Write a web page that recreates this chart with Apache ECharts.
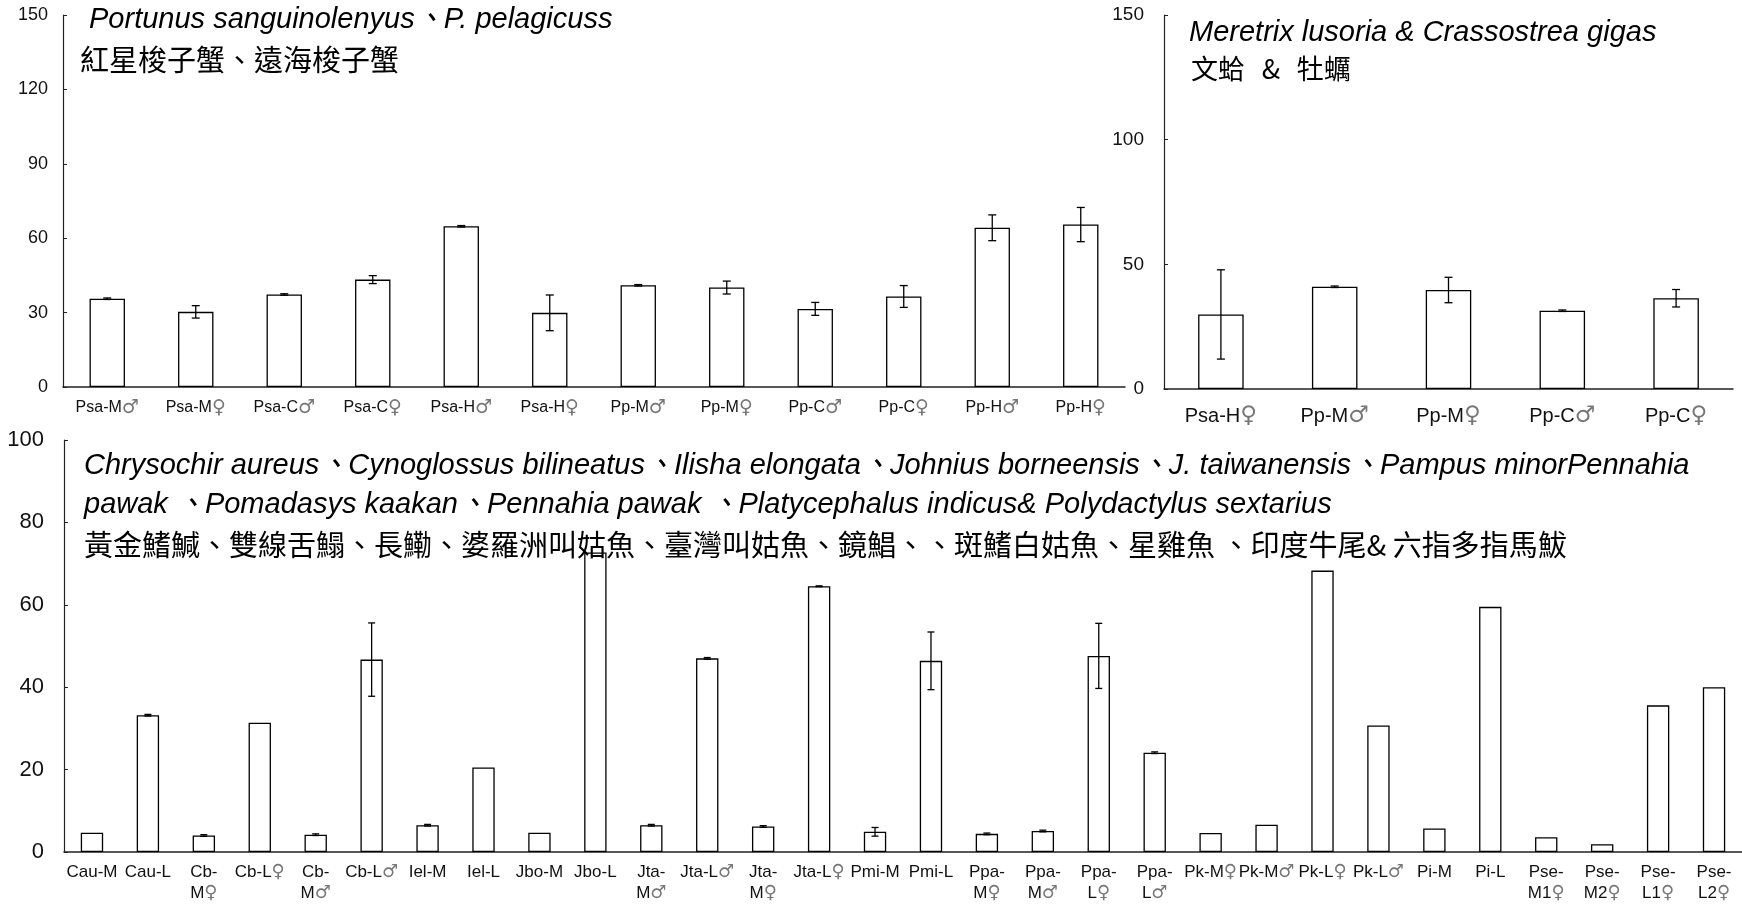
<!DOCTYPE html>
<html>
<head>
<meta charset="utf-8">
<script src="https://cdn.jsdelivr.net/npm/echarts@6/dist/echarts.min.js"></script>
<style>
html,body{margin:0;padding:0;background:#fff;}
#chart{width:1742px;height:905px;}
</style>
</head>
<body>
<div id="chart"></div>
<script>
// ---------- DATA ----------
const crabCategories = ['Psa-M♂','Psa-M♀','Psa-C♂','Psa-C♀','Psa-H♂','Psa-H♀','Pp-M♂','Pp-M♀','Pp-C♂','Pp-C♀','Pp-H♂','Pp-H♀'];
const crabValues = [35.6, 30.3, 37.3, 43.3, 64.8, 29.9, 41.0, 40.1, 31.5, 36.5, 64.2, 65.5];
const crabErrors = [0.3, 2.5, 0.3, 1.6, 0.3, 7.2, 0.3, 2.6, 2.6, 4.4, 5.2, 6.9];
const crabTicks = {min: 0, max: 150, interval: 30};

const shellCategories = ['Psa-H♀','Pp-M♂','Pp-M♀','Pp-C♂','Pp-C♀'];
const shellValues = [29.9, 41.0, 39.7, 31.4, 36.4];
const shellErrors = [17.9, 0.3, 5.1, 0.3, 3.5];
const shellTicks = {min: 0, max: 150, interval: 50};

const fishCategories = ['Cau-M','Cau-L','Cb-\nM♀','Cb-L♀','Cb-\nM♂','Cb-L♂','Iel-M','Iel-L','Jbo-M','Jbo-L',
  'Jta-\nM♂','Jta-L♂','Jta-\nM♀','Jta-L♀','Pmi-M','Pmi-L','Ppa-\nM♀','Ppa-\nM♂','Ppa-\nL♀','Ppa-\nL♂',
  'Pk-M♀','Pk-M♂','Pk-L♀','Pk-L♂','Pi-M','Pi-L','Pse-\nM1♀','Pse-\nM2♀','Pse-\nL1♀','Pse-\nL2♀'];
const fishValues = [4.7, 33.2, 4.0, 31.4, 4.2, 46.7, 6.5, 20.5, 4.7, 72.7,
  6.5, 47.0, 6.2, 64.5, 4.9, 46.4, 4.4, 5.1, 47.6, 24.1,
  4.6, 6.6, 68.3, 30.7, 5.7, 59.5, 3.6, 1.9, 35.6, 40.0];
const fishErrors = [0, 0.2, 0.2, 0, 0.2, 8.9, 0.2, 0, 0, 0,
  0.2, 0.2, 0.2, 0.1, 1.05, 7.0, 0.2, 0.2, 7.9, 0.2,
  0, 0, 0, 0, 0, 0, 0, 0, 0, 0];
const fishTicks = {min: 0, max: 100, interval: 20};

const crabTitle = 'Portunus sanguinolenyus、P. pelagicuss';
const crabTitleZh = '紅星梭子蟹、遠海梭子蟹';
const shellTitle = 'Meretrix lusoria & Crassostrea gigas';
const shellTitleZh = '文蛤 & 牡蠣';
const fishTitle1 = 'Chrysochir aureus、Cynoglossus bilineatus、Ilisha elongata、Johnius borneensis、J. taiwanensis、Pampus minorPennahia';
const fishTitle2 = 'pawak 、Pomadasys kaakan、Pennahia pawak 、Platycephalus indicus& Polydactylus sextarius';
const fishTitleZh = '黃金鰭鰔、雙線舌鰨、長鰳、婆羅洲叫姑魚、臺灣叫姑魚、鏡鯧、、斑鰭白姑魚、星雞魚 、印度牛尾& 六指多指馬鮁';

// ---------- CHART ----------
const FONT = '"Liberation Sans", Arial, "Noto Sans CJK TC", sans-serif';
const CJK = '"Noto Sans CJK TC", sans-serif';

function genderFmt(v){ return v.replace(/([♂♀])/g, '{g|$1}'); }

function xAxis(gi, cats, fs, gfs, margin, lh){
  return {
    type: 'category', gridIndex: gi, data: cats,
    axisLine: {lineStyle: {color: '#222', width: 1.5}},
    axisTick: {show: false},
    axisLabel: {
      interval: 0, color: '#111', fontFamily: FONT, fontSize: fs, margin: margin, lineHeight: lh,
      formatter: genderFmt,
      rich: {g: {color: '#777', fontSize: gfs, fontFamily: '"DejaVu Sans", sans-serif', lineHeight: lh}}
    }
  };
}
function yAxis(gi, t, fs, margin){
  return {
    type: 'value', gridIndex: gi, min: t.min, max: t.max, interval: t.interval,
    splitLine: {show: false},
    axisLine: {show: true, lineStyle: {color: '#222', width: 1.2}},
    axisTick: {show: true, inside: true, length: 4, lineStyle: {color: '#222'}},
    axisLabel: {color: '#111', fontFamily: FONT, fontSize: fs, margin: margin}
  };
}
function bars(i, vals){
  return {
    type: 'bar', xAxisIndex: i, yAxisIndex: i, data: vals, barWidth: '40%',
    itemStyle: {color: '#fff', borderColor: '#000', borderWidth: 1.3},
    silent: true, animation: false
  };
}
function errs(i, vals, errsArr, cap){
  return {
    type: 'custom', xAxisIndex: i, yAxisIndex: i, z: 5, animation: false, silent: true,
    data: vals.map((v, k) => [k, v, errsArr[k]]),
    renderItem: function(params, api){
      const x = api.value(0), v = api.value(1), e = api.value(2);
      if (!e) return null;
      const hi = api.coord([x, v + e]);
      const lo = api.coord([x, v - e]);
      const st = {stroke: '#000', lineWidth: 1.3};
      return {type: 'group', children: [
        {type: 'line', shape: {x1: hi[0], y1: hi[1], x2: lo[0], y2: lo[1]}, style: st},
        {type: 'line', shape: {x1: hi[0]-cap, y1: hi[1], x2: hi[0]+cap, y2: hi[1]}, style: st},
        {type: 'line', shape: {x1: lo[0]-cap, y1: lo[1], x2: lo[0]+cap, y2: lo[1]}, style: st}
      ]};
    }
  };
}
function txt(x, y, s, font, rich){
  const el = {type: 'text', x: x, y: y, z: 10, silent: true,
    style: {text: s, font: font, fill: '#000', align: 'left', verticalAlign: 'middle'}};
  if (rich) el.style.rich = rich;
  return el;
}

const chart = echarts.init(document.getElementById('chart'), null, {renderer: 'canvas'});
chart.setOption({
  backgroundColor: '#fff',
  animation: false,
  grid: [
    {left: 63, top: 15, width: 1062, height: 372},
    {left: 1164, top: 15, width: 569, height: 374},
    {left: 64, top: 440, width: 1678, height: 412}
  ],
  xAxis: [
    xAxis(0, crabCategories, 16, 19, 11, 20),
    xAxis(1, shellCategories, 20, 23, 15, 24),
    xAxis(2, fishCategories, 17, 18, 10, 21)
  ],
  yAxis: [
    yAxis(0, crabTicks, 18, 15),
    yAxis(1, shellTicks, 19, 20),
    yAxis(2, fishTicks, 22, 20)
  ],
  series: [
    bars(0, crabValues), errs(0, crabValues, crabErrors, 4),
    bars(1, shellValues), errs(1, shellValues, shellErrors, 4),
    bars(2, fishValues), errs(2, fishValues, fishErrors, 3.5)
  ],
  graphic: [
    txt(89, 20, crabTitle, 'italic 29px ' + FONT),
    txt(80, 60, crabTitleZh, '29px ' + CJK),
    txt(1189, 33, shellTitle, 'italic 29px ' + FONT),
    txt(1191, 69, shellTitleZh.replace(/ /g, '{s| }'), '27px ' + CJK,
        {s: {fontSize: 60, fontFamily: FONT, lineHeight: 30}}),
    txt(84, 466, fishTitle1, 'italic 29px ' + FONT),
    txt(84, 505, fishTitle2, 'italic 29px ' + FONT),
    txt(84, 545, fishTitleZh, '29px ' + CJK)
  ]
});
</script>
</body>
</html>
